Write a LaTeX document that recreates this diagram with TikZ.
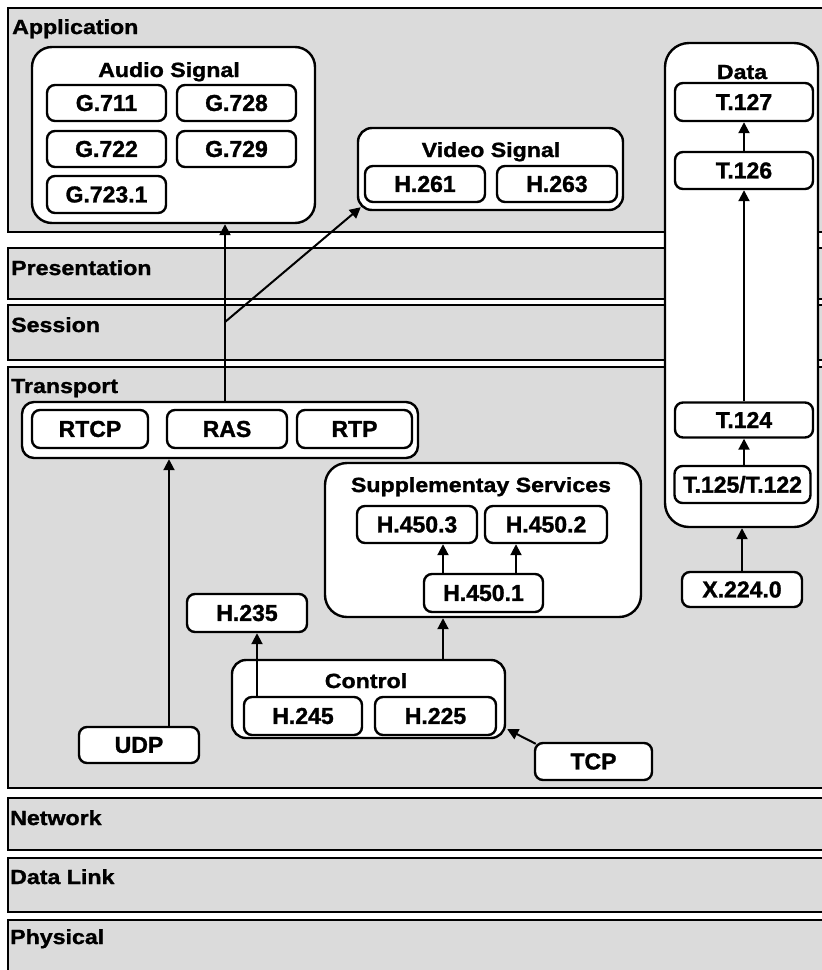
\documentclass[tikz,border=0pt]{standalone}
\usepackage{fontspec}
\setmainfont{Liberation Sans}[BoldFeatures={FakeBold=1.3}]
\newfontfamily\labf{Liberation Sans}[FakeStretch=1.13, BoldFeatures={FakeBold=1.3}]
\usetikzlibrary{arrows.meta}
\tikzset{
 band/.style={draw=black, fill=black!14, line width=2.5pt},
 laylab/.style={anchor=base west, inner sep=0pt, font=\labf\bfseries\fontsize{20.5}{20.5}\selectfont},
 grp/.style={draw=black, fill=white, line width=2.4pt, rounded corners=20pt, inner sep=0pt},
 grptitle/.style={anchor=base, inner sep=0pt, font=\labf\bfseries\fontsize{20.5}{20.5}\selectfont},
 sbox/.style={draw=black, fill=white, line width=2.4pt, rounded corners=8pt, inner sep=0pt, font=\bfseries\fontsize{23}{23}\selectfont},
 arr/.style={line width=2pt, -{Triangle[length=11pt,width=11pt]}},
}
\begin{document}
\begin{tikzpicture}[x=1pt,y=-1pt]
\useasboundingbox (0,0) rectangle (822,970);
\clip (0,0) rectangle (822,970);
% layer bands
\path[band] (8,8) rectangle (840,232);
\path[band] (8,248) rectangle (840,299);
\path[band] (8,305) rectangle (840,360);
\path[band] (8,367) rectangle (840,788);
\path[band] (8,798) rectangle (840,850);
\path[band] (8,858) rectangle (840,912);
\path[band] (8,920) rectangle (840,995);
\node[laylab] (lapp) at (12,34) {Application};
\node[laylab] (lpres) at (11,275) {Presentation};
\node[laylab] (lsess) at (11,332) {Session};
\node[laylab] (ltrans) at (11,393) {Transport};
\node[laylab] (lnet) at (10,825) {Network};
\node[laylab] (ldl) at (10,884) {Data Link};
\node[laylab] (lphys) at (10,944) {Physical};
% group containers
\node[grp, minimum width=283pt, minimum height=176pt] (audio) at (173.5,135) {};
\node[grptitle] (taudio) at (169,77) {Audio Signal};
\node[grp, minimum width=265pt, minimum height=82pt, rounded corners=14pt] (video) at (490.5,169) {};
\node[grptitle] (tvideo) at (491,157) {Video Signal};
\node[grp, minimum width=153pt, minimum height=484pt, rounded corners=24pt] (data) at (741.5,285) {};
\node[grptitle] (tdata) at (742,79) {Data};
\node[grp, minimum width=396pt, minimum height=56pt, rounded corners=12pt] (tcont) at (220,430) {};
\node[grp, minimum width=316pt, minimum height=154pt, rounded corners=22pt] (supp) at (483,540) {};
\node[grptitle] (tsupp) at (481,492) {Supplementay Services};
\node[grp, minimum width=273pt, minimum height=78pt, rounded corners=14pt] (control) at (368.5,699) {};
\node[grptitle] (tcontrol) at (366,688) {Control};
% small boxes
\node[sbox, minimum width=119pt, minimum height=36pt] (g711) at (106.5,103) {G.711};
\node[sbox, minimum width=119pt, minimum height=36pt] (g728) at (236.5,103) {G.728};
\node[sbox, minimum width=119pt, minimum height=36pt] (g722) at (106.5,149) {G.722};
\node[sbox, minimum width=119pt, minimum height=36pt] (g729) at (236.5,149) {G.729};
\node[sbox, minimum width=119pt, minimum height=37pt] (g7231) at (106.5,194.5) {G.723.1};
\node[sbox, minimum width=120pt, minimum height=36pt] (h261) at (425,184) {H.261};
\node[sbox, minimum width=120pt, minimum height=36pt] (h263) at (557,184) {H.263};
\node[sbox, minimum width=138pt, minimum height=38pt] (t127) at (744,102) {T.127};
\node[sbox, minimum width=138pt, minimum height=37pt] (t126) at (744,170.5) {T.126};
\node[sbox, minimum width=138pt, minimum height=35pt] (t124) at (744,420) {T.124};
\node[sbox, minimum width=136pt, minimum height=37pt] (t125) at (742.5,484.5) {T.125/T.122};
\node[sbox, minimum width=120pt, minimum height=35pt] (x224) at (742,589.5) {X.224.0};
\node[sbox, minimum width=116pt, minimum height=38pt] (rtcp) at (90,429) {RTCP};
\node[sbox, minimum width=120pt, minimum height=38pt] (ras) at (227,429) {RAS};
\node[sbox, minimum width=115pt, minimum height=38pt] (rtp) at (354.5,429) {RTP};
\node[sbox, minimum width=120pt, minimum height=37pt] (h4503) at (417,524.5) {H.450.3};
\node[sbox, minimum width=122pt, minimum height=37pt] (h4502) at (546,524.5) {H.450.2};
\node[sbox, minimum width=119pt, minimum height=38pt] (h4501) at (483.5,593) {H.450.1};
\node[sbox, minimum width=120pt, minimum height=38pt] (h235) at (247,613) {H.235};
\node[sbox, minimum width=118pt, minimum height=38pt] (h245) at (303,716) {H.245};
\node[sbox, minimum width=121pt, minimum height=38pt] (h225) at (435.5,716) {H.225};
\node[sbox, minimum width=120pt, minimum height=36pt] (udp) at (139,745) {UDP};
\node[sbox, minimum width=117pt, minimum height=37pt] (tcp) at (593.5,761.5) {TCP};
% helper coordinates for connector lines
\coordinate (xudp) at (169,0);
\coordinate (xras) at (225,0);
\coordinate (xh245) at (257,0);
\coordinate (xctl) at (443,0);
\coordinate (xh2) at (516,0);
\coordinate (split) at (225,322);
% connectors
\draw[arr] (udp.north -| xudp) -- (tcont.south -| xudp);
\draw[arr] (tcont.north -| xras) -- (audio.south -| xras);
\draw[arr] (split) -- ([shift={(4,-4)}]video.south west);
\draw[arr] (h245.north -| xh245) -- (h235.south -| xh245);
\draw[arr] (control.north -| xctl) -- (supp.south -| xctl);
\draw[arr] (h4501.north -| xctl) -- (h4503.south -| xctl);
\draw[arr] (h4501.north -| xh2) -- (h4502.south -| xh2);
\draw[arr] ([shift={(2,2)}]tcp.north west) -- ([shift={(1,-10)}]control.south east);
\draw[arr] (x224.north) -- (x224.north |- data.south);
\draw[arr] (t125.north -| t124) -- (t124.south);
\draw[arr] (t124.north) -- (t126.south);
\draw[arr] (t126.north) -- (t127.south);
\end{tikzpicture}
\end{document}
